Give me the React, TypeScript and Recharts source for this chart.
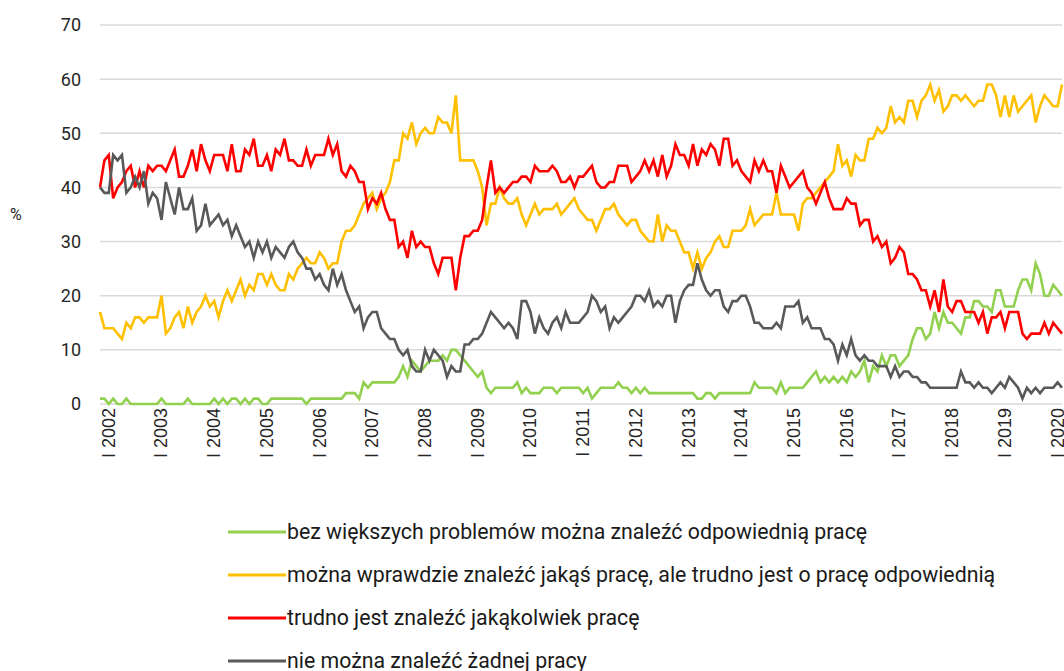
import React from 'react';
import { LineChart, Line, XAxis, YAxis, CartesianGrid, Legend, Label } from 'recharts';

// Monthly survey, first observation: November 2001
const FIRST_YEAR = 2001;
const FIRST_MONTH = 11;

const yearTickLabels = [
  'I 2002', 'I 2003', 'I 2004', 'I 2005', 'I 2006', 'I 2007', 'I 2008', 'I 2009', 'I 2010',
  'I 2011', 'I 2012', 'I 2013', 'I 2014', 'I 2015', 'I 2016', 'I 2017', 'I 2018', 'I 2019', 'I 2020',
];

const yTicks = [0, 10, 20, 30, 40, 50, 60, 70];

// bez większych problemów można znaleźć odpowiednią pracę
const easy = [
  1, 1, 0, 1, 0, 0, 1, 0, 0, 0,
  0, 0, 0, 0, 1, 0, 0, 0, 0, 0,
  1, 0, 0, 0, 0, 0, 1, 0, 1, 0,
  1, 1, 0, 1, 0, 1, 1, 0, 0, 1,
  1, 1, 1, 1, 1, 1, 1, 0, 1, 1,
  1, 1, 1, 1, 1, 1, 2, 2, 2, 1,
  4, 3, 4, 4, 4, 4, 4, 4, 5, 7,
  5, 8, 7, 6, 7, 8, 8, 8, 9, 8,
  10, 10, 9, 8, 7, 6, 5, 6, 3, 2,
  3, 3, 3, 3, 3, 4, 2, 3, 2, 2,
  2, 3, 3, 3, 2, 3, 3, 3, 3, 3,
  2, 3, 1, 2, 3, 3, 3, 3, 4, 3,
  3, 2, 3, 2, 3, 2, 2, 2, 2, 2,
  2, 2, 2, 2, 2, 2, 1, 1, 2, 2,
  1, 2, 2, 2, 2, 2, 2, 2, 2, 4,
  3, 3, 3, 3, 2, 4, 2, 3, 3, 3,
  3, 4, 5, 6, 4, 5, 4, 5, 4, 5,
  4, 6, 5, 6, 8, 4, 7, 6, 9, 7,
  9, 9, 7, 8, 9, 12, 14, 14, 12, 13,
  17, 14, 17, 15, 15, 14, 13, 16, 16, 19,
  19, 18, 18, 17, 21, 21, 18, 18, 18, 21,
  23, 23, 21, 26, 24, 20, 20, 22, 21, 20,
];

// można wprawdzie znaleźć jakąś pracę, ale trudno jest o pracę odpowiednią
const someWork = [
  17, 14, 14, 14, 13, 12, 15, 14, 16, 16,
  15, 16, 16, 16, 20, 13, 14, 16, 17, 14,
  18, 15, 17, 18, 20, 18, 19, 16, 19, 21,
  19, 21, 23, 20, 22, 21, 24, 24, 22, 24,
  22, 21, 21, 24, 23, 25, 26, 27, 26, 26,
  28, 27, 25, 26, 26, 30, 32, 32, 33, 35,
  37, 38, 39, 36, 38, 39, 41, 45, 45, 50,
  49, 52, 48, 50, 51, 50, 50, 53, 52, 52,
  50, 57, 45, 45, 45, 45, 43, 40, 33, 37,
  37, 40, 38, 37, 37, 38, 35, 33, 35, 37,
  35, 36, 36, 36, 37, 35, 36, 37, 38, 36,
  35, 34, 34, 32, 34, 36, 36, 37, 35, 34,
  33, 34, 34, 32, 31, 30, 30, 35, 30, 33,
  32, 32, 30, 28, 28, 25, 28, 25, 27, 28,
  30, 31, 29, 29, 32, 32, 32, 33, 36, 33,
  34, 35, 35, 35, 39, 35, 35, 35, 35, 32,
  37, 38, 38, 39, 40, 41, 42, 43, 48, 44,
  45, 42, 46, 45, 45, 49, 49, 51, 50, 51,
  55, 52, 53, 52, 56, 56, 53, 56, 57, 59,
  56, 58, 54, 55, 57, 57, 56, 57, 56, 55,
  56, 56, 59, 59, 57, 53, 57, 53, 57, 54,
  55, 56, 57, 52, 55, 57, 56, 55, 55, 59,
];

// trudno jest znaleźć jakąkolwiek pracę
const hard = [
  40, 45, 46, 38, 40, 41, 43, 44, 40, 43,
  40, 44, 43, 44, 44, 43, 45, 47, 42, 42,
  44, 47, 43, 48, 45, 43, 46, 46, 46, 43,
  48, 43, 43, 47, 46, 49, 44, 44, 46, 43,
  47, 46, 49, 45, 45, 44, 44, 47, 44, 46,
  46, 46, 49, 46, 48, 43, 42, 44, 43, 41,
  41, 36, 38, 37, 39, 36, 34, 34, 29, 30,
  27, 32, 29, 30, 29, 29, 26, 24, 27, 27,
  27, 21, 27, 31, 31, 32, 32, 34, 40, 45,
  39, 40, 39, 40, 41, 41, 42, 42, 41, 44,
  43, 43, 43, 44, 43, 41, 41, 42, 40, 42,
  42, 43, 44, 41, 40, 40, 41, 41, 44, 44,
  44, 41, 42, 43, 45, 43, 45, 42, 46, 42,
  44, 48, 46, 46, 44, 48, 44, 47, 46, 48,
  47, 44, 49, 49, 44, 45, 43, 42, 41, 45,
  43, 45, 43, 43, 39, 44, 42, 40, 41, 42,
  43, 40, 39, 37, 39, 41, 38, 36, 36, 36,
  38, 37, 37, 33, 34, 34, 30, 31, 29, 30,
  26, 27, 29, 28, 24, 24, 23, 21, 21, 18,
  21, 17, 23, 18, 17, 19, 19, 17, 17, 17,
  15, 17, 13, 16, 16, 17, 14, 17, 17, 17,
  13, 12, 13, 13, 13, 15, 13, 15, 14, 13,
];

// nie można znaleźć żadnej pracy
const none = [
  40, 39, 39, 46, 45, 46, 39, 40, 42, 40,
  43, 37, 39, 38, 34, 41, 38, 35, 40, 36,
  36, 38, 32, 33, 37, 33, 34, 35, 33, 34,
  31, 33, 31, 29, 30, 27, 30, 28, 30, 27,
  29, 28, 27, 29, 30, 28, 27, 25, 25, 23,
  24, 22, 21, 25, 22, 24, 21, 19, 17, 18,
  14, 16, 17, 17, 14, 13, 12, 12, 10, 9,
  10, 7, 6, 6, 10, 8, 10, 9, 8, 5,
  7, 6, 6, 11, 11, 12, 12, 13, 15, 17,
  16, 15, 14, 15, 14, 12, 19, 19, 17, 13,
  16, 14, 13, 15, 16, 14, 17, 15, 15, 15,
  16, 17, 20, 19, 17, 18, 14, 16, 15, 16,
  17, 18, 20, 20, 19, 21, 18, 19, 18, 20,
  20, 15, 19, 21, 22, 22, 26, 23, 21, 20,
  21, 21, 18, 17, 19, 19, 20, 20, 18, 15,
  15, 14, 14, 14, 15, 14, 18, 18, 18, 19,
  15, 16, 14, 14, 14, 12, 12, 11, 8, 11,
  9, 12, 9, 8, 9, 8, 8, 7, 7, 7,
  5, 7, 5, 6, 6, 5, 5, 4, 4, 3,
  3, 3, 3, 3, 3, 3, 6, 4, 4, 3,
  4, 3, 3, 2, 3, 4, 3, 5, 4, 3,
  1, 3, 2, 3, 2, 3, 3, 3, 4, 3,
];

const seriesDefs = [
  { key: 'easy', name: 'bez większych problemów można znaleźć odpowiednią pracę', color: '#92d050', values: easy },
  { key: 'someWork', name: 'można wprawdzie znaleźć jakąś pracę, ale trudno jest o pracę odpowiednią', color: '#ffc000', values: someWork },
  { key: 'hard', name: 'trudno jest znaleźć jakąkolwiek pracę', color: '#ff0000', values: hard },
  { key: 'none', name: 'nie można znaleźć żadnej pracy', color: '#595959', values: none },
];

const monthKey = (i: number) => {
  const total = FIRST_YEAR * 12 + (FIRST_MONTH - 1) + i;
  const y = Math.floor(total / 12);
  const m = (total % 12) + 1;
  return `${y}-${String(m).padStart(2, '0')}`;
};

const data = easy.map((_, i) => {
  const row: any = { month: monthKey(i) };
  seriesDefs.forEach((s) => {
    row[s.key] = s.values[i];
  });
  return row;
});

const tickLabelByKey: Record<string, string> = {};
yearTickLabels.forEach((lbl) => {
  const year = lbl.split(' ')[1];
  tickLabelByKey[`${year}-01`] = lbl;
});

const XTick = (props: any) => {
  const { x, y, payload } = props;
  const label = tickLabelByKey[payload && payload.value];
  if (!label) return <g />;
  return (
    <text
      x={x}
      y={y}
      transform={`rotate(-90, ${x}, ${y})`}
      textAnchor="end"
      dominantBaseline="central"
      fontSize={18}
      fontFamily="'Liberation Sans', Arial, sans-serif"
      fill="#262626"
    >
      {label}
    </text>
  );
};

const LegendContent = () => (
  <div style={{ fontFamily: "Roboto, 'Noto Sans', sans-serif", fontSize: 21.3, color: '#1a1a1a' }}>
    {seriesDefs.map((s) => (
      <div key={s.key} style={{ display: 'flex', alignItems: 'center', height: 43, whiteSpace: 'nowrap' }}>
        <svg width={58} height={10} style={{ flex: 'none' }}>
          <line x1={0} y1={5} x2={58} y2={5} stroke={s.color} strokeWidth={3} />
        </svg>
        <span style={{ marginLeft: 1 }}>{s.name}</span>
      </div>
    ))}
  </div>
);

export default function App() {
  return (
    <div style={{ position: 'absolute', left: 0, top: 0, width: 1064, height: 671, background: '#fff', overflow: 'hidden' }}>
      <LineChart
        width={1064}
        height={671}
        data={data}
        margin={{ top: 25, right: 2, bottom: 207, left: 0 }}
      >
        <CartesianGrid vertical={false} stroke="#d9d9d9" strokeWidth={1.5} />
        <XAxis
          dataKey="month"
          type="category"
          scale="point"
          padding={{ left: 0, right: 0 }}
          interval={0}
          axisLine={false}
          tickLine={false}
          tickSize={0}
          tickMargin={4}
          height={60}
          tick={<XTick />}
        />
        <YAxis
          domain={[0, 70]}
          ticks={yTicks}
          interval={0}
          axisLine={false}
          tickLine={false}
          tickSize={0}
          tickMargin={19}
          width={100}
          tick={{ fontSize: 18, fill: '#262626', fontFamily: 'Roboto, sans-serif' }}
        >
          <Label value="%" position="insideLeft" offset={10} fontSize={16} fill="#262626" fontFamily="Roboto, sans-serif" />
        </YAxis>
        <Legend
          layout="vertical"
          verticalAlign="middle"
          align="center"
          wrapperStyle={{ position: 'absolute', left: 228, top: 510, width: 834, height: 172 }}
          content={<LegendContent />}
        />
        {seriesDefs.map((s) => (
          <Line
            key={s.key}
            type="linear"
            dataKey={s.key}
            name={s.name}
            stroke={s.color}
            strokeWidth={2.6}
            dot={false}
            activeDot={false}
            isAnimationActive={false}
          />
        ))}
      </LineChart>
    </div>
  );
}
